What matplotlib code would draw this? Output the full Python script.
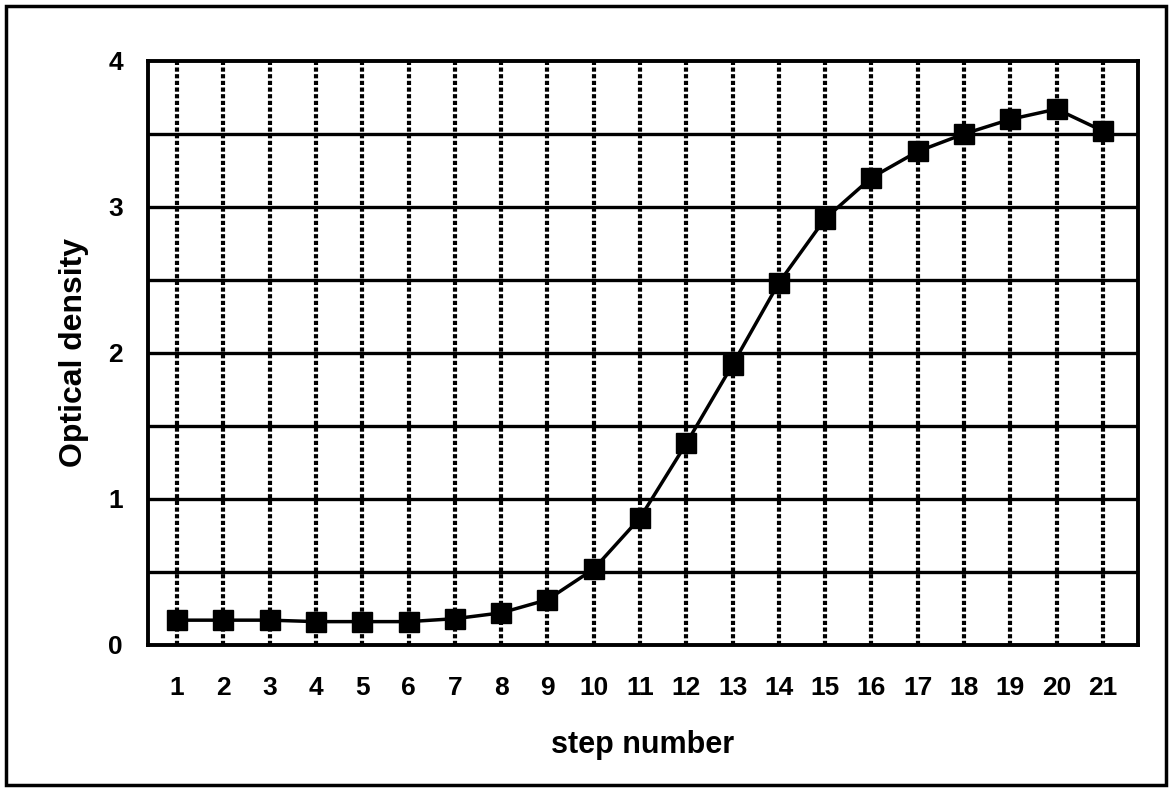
import matplotlib
matplotlib.use('Agg')
import matplotlib.pyplot as plt
from matplotlib.patches import Rectangle

plt.rcParams['font.family'] = ['Liberation Sans', 'DejaVu Sans']

# 読み取った値
steps = list(range(1, 22))
density = [0.17, 0.17, 0.17, 0.16, 0.16, 0.16, 0.18, 0.22, 0.31, 0.52, 0.87,
           1.38, 1.92, 2.48, 2.92, 3.20, 3.38, 3.50, 3.60, 3.67, 3.52]
y_ticks = [0, 1, 2, 3, 4]

fig = plt.figure(figsize=(11.72, 7.91), dpi=100)
ax = fig.add_axes([0.1263, 0.1846, 0.8447, 0.7384])

# 横の実線グリッド (0.5刻み)
for yv in [0.5, 1, 1.5, 2, 2.5, 3, 3.5]:
    ax.axhline(yv, color='black', lw=2.4, zorder=1)
# 縦の点線グリッド
for xv in steps:
    ax.axvline(xv, color='black', lw=3, linestyle=(0, (1, 0.6)), zorder=1)

ax.plot(steps, density, color='black', lw=2.5, marker='s', ms=15,
        markerfacecolor='black', markeredgecolor='black', zorder=3)

ax.set_xlim(0.37, 21.76)
ax.set_ylim(0, 4)
ax.set_xticks(steps)
ax.set_yticks(y_ticks)
ax.tick_params(axis='x', length=0, pad=22, labelsize=19)
ax.tick_params(axis='y', length=0, pad=18, labelsize=19)
for lab in ax.get_xticklabels() + ax.get_yticklabels():
    lab.set_fontweight('bold')
for sp in ax.spines.values():
    sp.set_linewidth(2.8)
    sp.set_color('black')

ax.set_xlabel('step number', fontsize=22, fontweight='bold', labelpad=22)
ax.set_ylabel('Optical density', fontsize=23, fontweight='bold', labelpad=14)

# 外枠
fig.patches.append(Rectangle((0.005, 0.008), 0.99, 0.985, transform=fig.transFigure,
                             fill=False, edgecolor='black', lw=2.5))

plt.savefig('out.png', dpi=100)
